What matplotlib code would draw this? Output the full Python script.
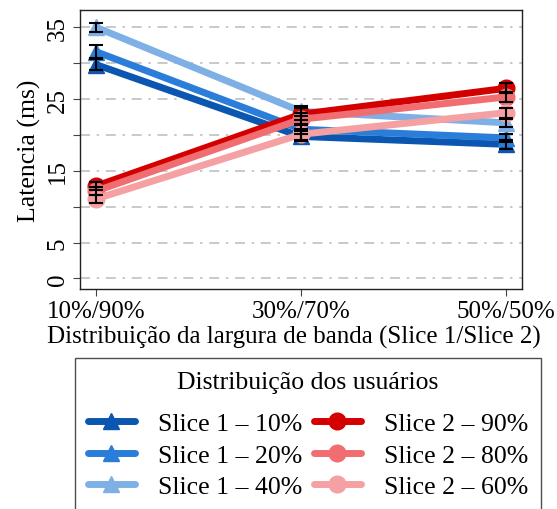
import numpy as np
import matplotlib
matplotlib.use('Agg')
import matplotlib.pyplot as plt

plt.rcParams['font.family'] = ['Liberation Serif', 'DejaVu Serif']

# Bandwidth split between the two slices
categories = ['10%/90%', '30%/70%', '50%/50%']

# Mean latency (ms) per user distribution
s1_10 = [29.8, 19.8, 18.7]
s1_20 = [31.6, 20.8, 19.6]
s1_40 = [35.0, 23.3, 21.7]
s2_90 = [12.9, 22.9, 26.5]
s2_80 = [12.2, 22.2, 25.3]
s2_60 = [11.1, 20.1, 23.1]

# Error bar half-widths
err_s1_10 = [0.8, 0.7, 0.6]
err_s1_20 = [0.9, 0.7, 0.6]
err_s1_40 = [0.6, 0.7, 0.6]
err_s2_90 = [0.6, 0.8, 0.7]
err_s2_80 = [0.6, 0.8, 0.7]
err_s2_60 = [0.6, 0.8, 0.7]

labels = ['Slice 1 – 10%', 'Slice 1 – 20%', 'Slice 1 – 40%',
          'Slice 2 – 90%', 'Slice 2 – 80%', 'Slice 2 – 60%']
colors = ['#0a56b0', '#2a7dd8', '#7eb0e6', '#d40000', '#f06e72', '#f5a0a2']
markers = ['^', '^', '^', 'o', 'o', 'o']
series = [s1_10, s1_20, s1_40, s2_90, s2_80, s2_60]
errors = [err_s1_10, err_s1_20, err_s1_40, err_s2_90, err_s2_80, err_s2_60]

x = np.arange(len(categories))
fs = 18

fig = plt.figure(figsize=(5.57, 5.10), dpi=100)
ax = fig.add_axes([0.1436, 0.431, 0.7934, 0.547])

handles = []
for y, e, c, m, lab in zip(series, errors, colors, markers, labels):
    h, = ax.plot(x, y, color=c, lw=5, marker=m, markersize=12,
                 solid_capstyle='round', label=lab, zorder=3)
    handles.append(h)
for y, e in zip(series, errors):
    ax.errorbar(x, y, yerr=e, fmt='none', ecolor='black', elinewidth=1.5,
                capsize=5, capthick=1.5, zorder=4)

ax.set_xlim(-0.08, 2.08)
ax.set_ylim(-1.5, 37.4)
ax.set_xticks(x)
ax.set_xticklabels(categories, fontsize=fs)
ax.set_yticks(np.arange(0, 36, 5))
ax.set_yticklabels(['0', '5', '', '15', '', '25', '', '35'], fontsize=fs,
                   rotation=90, va='center')
ax.tick_params(direction='out', length=5, color='#444444', pad=3)
ax.yaxis.grid(True, color='#c0c0c0', linestyle=(0, (6, 4, 1.5, 4)), lw=1.2)
ax.set_axisbelow(True)
for sp in ax.spines.values():
    sp.set_color('#222222')
    sp.set_linewidth(1.0)

ax.set_ylabel('Latencia (ms)', fontsize=18.5, labelpad=4)
ax.set_xlabel('Distribuição da largura de banda (Slice 1/Slice 2)', fontsize=fs,
              labelpad=2)
ax.xaxis.label.set_x(0.485)

leg = fig.legend(handles=handles, ncol=2, loc='upper center',
                 bbox_to_anchor=(0.553, 0.296), borderaxespad=0,
                 title='Distribuição dos usuários',
                 fontsize=18.5, title_fontsize=18.5, frameon=True, fancybox=False,
                 edgecolor='#222222', handlelength=1.83, handletextpad=0.9,
                 columnspacing=0.45, labelspacing=0.33, borderpad=0.5,
                 markerscale=1.0)
leg.get_frame().set_linewidth(1.0)
# wider gap between the legend title and its entries
leg._legend_box.sep = 14

fig.savefig('out.png', dpi=100)
